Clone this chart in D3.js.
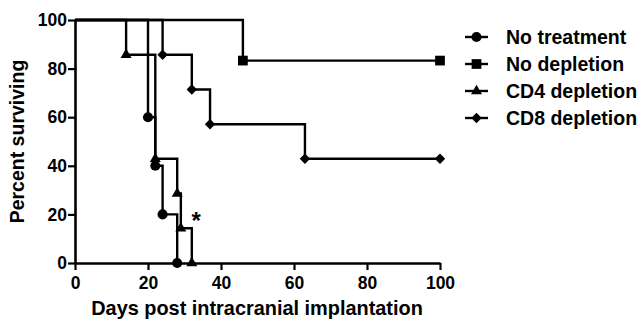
<!DOCTYPE html>
<html>
<head>
<meta charset="utf-8">
<script src="https://cdn.jsdelivr.net/npm/d3@7"></script>
<style>
  html, body { margin: 0; padding: 0; background: #fff; }
  svg { display: block; }
  text { font-family: "Liberation Sans", Arial, sans-serif; font-weight: bold; fill: #000; }
</style>
</head>
<body>
<svg id="chart" width="640" height="319"></svg>
<script>
// ---- Data ----
const seriesNames = ["No treatment", "No depletion", "CD4 depletion", "CD8 depletion"];
const noTreatmentDays = [0, 20, 22, 24, 28];
const noTreatmentSurv = [100, 60, 40, 20, 0];
const noDepletionDays = [0, 46, 100];
const noDepletionSurv = [100, 83.3, 83.3];
const cd4Days = [0, 14, 22, 28, 29, 32];
const cd4Surv = [100, 85.7, 42.9, 28.6, 14.3, 0];
const cd8Days = [0, 24, 32, 37, 63, 100];
const cd8Surv = [100, 85.7, 71.4, 57.1, 42.9, 42.9];
const xTicks = [0, 20, 40, 60, 80, 100];
const yTicks = [0, 20, 40, 60, 80, 100];
const xTitle = "Days post intracranial implantation";
const yTitle = "Percent surviving";
const annotation = "*";
const annotationDay = 33.2, annotationSurv = 20;

const svg = d3.select("#chart");
const x = d3.scaleLinear().domain([0, 100]).range([75, 440]);
const y = d3.scaleLinear().domain([0, 100]).range([263, 20]);

const series = [
  { name: seriesNames[0], days: noTreatmentDays, surv: noTreatmentSurv, sym: "circle" },
  { name: seriesNames[1], days: noDepletionDays, surv: noDepletionSurv, sym: "square" },
  { name: seriesNames[2], days: cd4Days, surv: cd4Surv, sym: "triangle" },
  { name: seriesNames[3], days: cd8Days, surv: cd8Surv, sym: "diamond" }
];

function symPath(kind) {
  if (kind === "circle") return d3.symbol(d3.symbolCircle, 80)();
  if (kind === "square") return d3.symbol(d3.symbolSquare, 95)();
  if (kind === "triangle") return d3.symbol(d3.symbolTriangle, 52)();
  return d3.symbol(d3.symbolSquare, 54)();
}
function symTransform(kind, px, py) {
  return kind === "diamond" ? `translate(${px},${py}) rotate(45)` : `translate(${px},${py})`;
}

const line = d3.line().x(d => x(d[0])).y(d => y(d[1])).curve(d3.curveStepAfter);

// lines
series.forEach(s => {
  const pts = s.days.map((d, i) => [d, s.surv[i]]);
  svg.append("path").attr("d", line(pts)).attr("fill", "none")
    .attr("stroke", "#000").attr("stroke-width", 2.4);
});

// axes
const xAxis = svg.append("g").attr("transform", `translate(0,${y(0)})`)
  .call(d3.axisBottom(x).tickValues(xTicks).tickSize(7).tickSizeOuter(0));
const yAxis = svg.append("g").attr("transform", `translate(${x(0)},0)`)
  .call(d3.axisLeft(y).tickValues(yTicks).tickSize(7).tickSizeOuter(0));
[xAxis, yAxis].forEach(a => {
  a.select(".domain").attr("stroke", "#000").attr("stroke-width", 2.6);
  a.selectAll(".tick line").attr("stroke", "#000").attr("stroke-width", 2.2);
  a.selectAll(".tick text").attr("font-size", 17.5).attr("font-family", "Liberation Sans, Arial, sans-serif")
    .attr("font-weight", "bold").attr("fill", "#000");
});
xAxis.selectAll(".tick text").attr("dy", "0.93em");
yAxis.selectAll(".tick text").attr("x", -8);

// markers
series.forEach(s => {
  s.days.forEach((d, i) => {
    if (i === 0) return;
    svg.append("path").attr("d", symPath(s.sym))
      .attr("transform", symTransform(s.sym, x(d), y(s.surv[i])))
      .attr("fill", "#000");
  });
});

// annotation
svg.append("text").attr("x", x(annotationDay)).attr("y", y(annotationSurv) + 15)
  .attr("text-anchor", "middle").attr("font-size", 24).text(annotation);

// titles
svg.append("text").attr("x", 257).attr("y", 315).attr("text-anchor", "middle")
  .attr("font-size", 19.9).text(xTitle);
svg.append("text").attr("transform", "translate(24,141.5) rotate(-90)").attr("text-anchor", "middle")
  .attr("font-size", 19.5).text(yTitle);

// legend
const legend = svg.append("g");
series.forEach((s, i) => {
  const ly = 37 + i * 27;
  legend.append("line").attr("x1", 465).attr("x2", 488).attr("y1", ly).attr("y2", ly)
    .attr("stroke", "#000").attr("stroke-width", 2.4);
  legend.append("path").attr("d", symPath(s.sym)).attr("transform", symTransform(s.sym, 476.5, ly)).attr("fill", "#000");
  legend.append("text").attr("x", 506).attr("y", ly + 6.8).attr("font-size", 19.5).text(s.name);
});
</script>
</body>
</html>
